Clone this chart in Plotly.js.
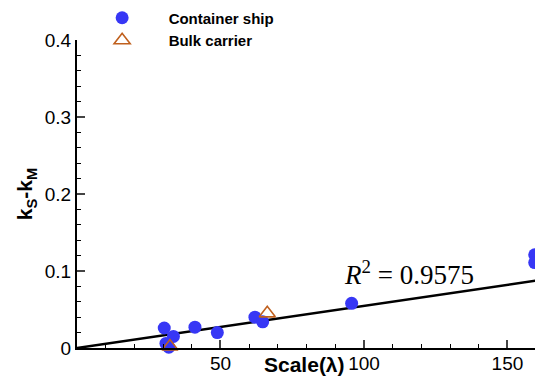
<!DOCTYPE html>
<html><head><meta charset="utf-8">
<script src="https://cdn.plot.ly/plotly-3.0.1.min.js"></script>
<style>html,body{margin:0;padding:0;background:#fff;overflow:hidden}</style>
</head><body><div id="chart" style="width:535px;height:383px"></div>
<script>
const containerX = [30.4, 33.6, 31.0, 32.0, 41.1, 48.9, 62.0, 64.7, 95.7, 159.5, 159.5];
const containerY = [0.026, 0.015, 0.006, 0.001, 0.027, 0.020, 0.040, 0.034, 0.058, 0.121, 0.111];
const bulkX = [32.4, 66.3];
const bulkY = [0.002, 0.045];
const fitX = [0, 160];
const fitY = [0, 0.0876];
const xTicks = [50, 100, 150];
const yTicks = [0, 0.1, 0.2, 0.3, 0.4];
const yTickText = ['0', '0.1', '0.2', '0.3', '0.4'];

const traces = [
  {x: fitX, y: fitY, mode: 'lines', line: {color: '#000', width: 2.5}, showlegend: false, hoverinfo: 'skip'},
  {x: containerX, y: containerY, mode: 'markers', name: 'Container ship',
   marker: {symbol: 'circle', size: 13, color: '#3737f5', line: {width: 0}}, cliponaxis: false},
  {x: bulkX, y: bulkY, mode: 'markers', name: 'Bulk carrier',
   marker: {symbol: 'triangle-up-open', size: 14, color: '#c0601e', line: {width: 1.6, color: '#c0601e'}}, cliponaxis: false}
];

const layout = {
  width: 535, height: 383,
  margin: {l: 77, r: 0, t: 40, b: 35},
  paper_bgcolor: '#fff', plot_bgcolor: '#fff',
  font: {family: 'Liberation Sans, Arial, sans-serif', color: '#000'},
  showlegend: true,
  legend: {x: -0.003, y: 1.125, xanchor: 'left', yanchor: 'top', itemwidth: 83,
    tracegroupgap: 0, bgcolor: 'rgba(0,0,0,0)',
    font: {size: 15, family: 'Liberation Sans, Arial, sans-serif', weight: 'bold', color: '#000'}},
  xaxis: {range: [0, 159.6], tickvals: xTicks, ticktext: xTicks.map(String), ticks: 'inside', ticklen: 8, tickwidth: 2,
    showline: true, linewidth: 2, linecolor: '#000', showgrid: false, zeroline: false,
    tickfont: {size: 19}, ticklabelstandoff: -3,
    minor: {dtick: 10, tick0: 0, ticks: 'inside', ticklen: 4, tickwidth: 1, tickcolor: '#000', showgrid: false}},
  yaxis: {range: [0, 0.4], tickvals: yTicks, ticktext: yTickText, ticks: 'inside', ticklen: 8, tickwidth: 2,
    showline: true, linewidth: 2, linecolor: '#000', showgrid: false, zeroline: false,
    tickfont: {size: 19},
    minor: {dtick: 0.02, tick0: 0, ticks: 'inside', ticklen: 4, tickwidth: 1, tickcolor: '#000', showgrid: false},
    title: {text: '<b>k<sub>S</sub>-k<sub>M</sub></b>', font: {size: 21}, standoff: 6}},
  annotations: [
    {x: 0.725, y: 0.245, xref: 'paper', yref: 'paper', xanchor: 'center', yanchor: 'middle', showarrow: false,
     text: '<i>R</i><sup>2</sup> = 0.9575', font: {family: 'Liberation Serif, Times New Roman, serif', size: 27, color: '#000'}},
    {x: (304 - 77) / 458, y: -0.052, xref: 'paper', yref: 'paper', xanchor: 'center', yanchor: 'middle', showarrow: false,
     text: '<b>Scale(λ)</b>', font: {size: 21, color: '#000'}}
  ]
};
Plotly.newPlot('chart', traces, layout, {displayModeBar: false, staticPlot: true});
</script></body></html>
